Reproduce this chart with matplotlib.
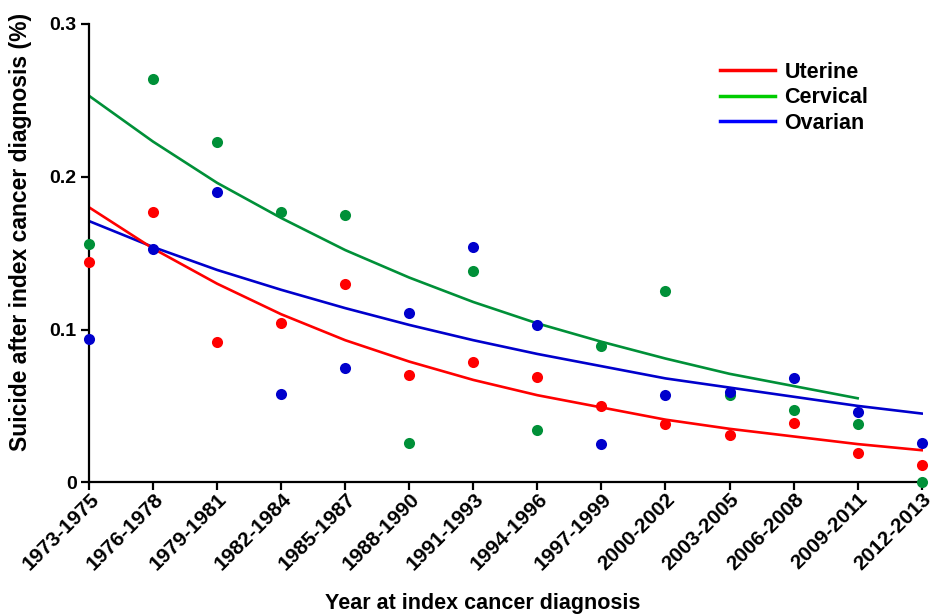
import numpy as np
from matplotlib import pyplot as plt
from matplotlib.lines import Line2D
from matplotlib.transforms import ScaledTranslation

plt.rcParams['font.family'] = ['Liberation Sans', 'DejaVu Sans']

periods = ["1973-1975", "1976-1978", "1979-1981", "1982-1984", "1985-1987",
           "1988-1990", "1991-1993", "1994-1996", "1997-1999", "2000-2002",
           "2003-2005", "2006-2008", "2009-2011", "2012-2013"]

# observed rates (%)
uterine_pts = [0.144, 0.177, 0.092, 0.104, 0.130, 0.070, 0.079, 0.069, 0.050, 0.038, 0.031, 0.039, 0.019, 0.011]
cervical_pts = [0.156, 0.264, 0.223, 0.177, 0.175, 0.026, 0.138, 0.034, 0.089, 0.125, 0.057, 0.047, 0.038, 0.000]
ovarian_pts = [0.094, 0.153, 0.190, 0.058, 0.075, 0.111, 0.154, 0.103, 0.025, 0.057, 0.059, 0.068, 0.046, 0.026]

# fitted trend lines
uterine_fit = [0.180, 0.153, 0.130, 0.110, 0.093, 0.079, 0.067, 0.057, 0.049, 0.041, 0.035, 0.030, 0.025, 0.021]
cervical_fit = [0.253, 0.223, 0.196, 0.173, 0.152, 0.134, 0.118, 0.104, 0.092, 0.081, 0.071, 0.063, 0.055]
ovarian_fit = [0.171, 0.154, 0.139, 0.126, 0.114, 0.103, 0.093, 0.084, 0.076, 0.068, 0.062, 0.056, 0.050, 0.045]

red = "#ff0000"
green = "#009038"
blue = "#0000cc"

fig = plt.figure(figsize=(9.31, 6.15), dpi=100)
ax = fig.add_axes([0.0956, 0.2158, 0.8958, 0.7452])

x = np.arange(len(periods))

ax.plot(x[:len(cervical_fit)], cervical_fit, color=green, lw=1.9, zorder=2)
ax.plot(x, ovarian_fit, color=blue, lw=1.9, zorder=2)
ax.plot(x, uterine_fit, color=red, lw=1.9, zorder=2)

ax.scatter(x, cervical_pts, s=64, color=green, zorder=3, clip_on=False, linewidths=0)
ax.scatter(x, uterine_pts, s=64, color=red, zorder=3, clip_on=False, linewidths=0)
ax.scatter(x, ovarian_pts, s=64, color=blue, zorder=4, clip_on=False, linewidths=0)

ax.set_xlim(0, 13.02)
ax.set_ylim(0, 0.3)
ax.set_yticks([0, 0.1, 0.2, 0.3])
ax.set_yticklabels(["0", "0.1", "0.2", "0.3"], fontsize=14, fontweight="bold")
ax.set_xticks(x)
ax.set_xticklabels(periods, rotation=45, ha="right", va="center", rotation_mode="anchor",
                   fontsize=15, fontweight="bold")

for s in ["top", "right"]:
    ax.spines[s].set_visible(False)
for s in ["left", "bottom"]:
    ax.spines[s].set_linewidth(1.6)
ax.tick_params(direction="out", length=6, width=1.6, pad=3)
ax.tick_params(axis="x", pad=4)

# nudge the slanted labels so their ends sit just right of the ticks
shift = ScaledTranslation(7 / 100, 0, fig.dpi_scale_trans)
for lbl in ax.get_xticklabels():
    lbl.set_transform(lbl.get_transform() + shift)

ax.set_xlabel("Year at index cancer diagnosis", fontsize=15.5, fontweight="bold")
ax.xaxis.set_label_coords(0.472, -0.242)
ax.set_ylabel("Suicide after index cancer diagnosis (%)", fontsize=16.5, fontweight="bold")
ax.yaxis.set_label_coords(-0.068, 0.546)

handles = [Line2D([], [], color=red, lw=2.5),
           Line2D([], [], color="#00cc00", lw=2.5),
           Line2D([], [], color="#0000ff", lw=2.5)]
ax.legend(handles, ["Uterine", "Cervical", "Ovarian"], loc="upper left",
          bbox_to_anchor=(720 / 931, 1 - 62 / 615), bbox_transform=fig.transFigure,
          frameon=False, handlelength=2.55, handletextpad=0.45, labelspacing=0.2,
          borderpad=0, borderaxespad=0,
          prop={"weight": "bold", "size": 15.5})

fig.savefig("out.png", dpi=100)
